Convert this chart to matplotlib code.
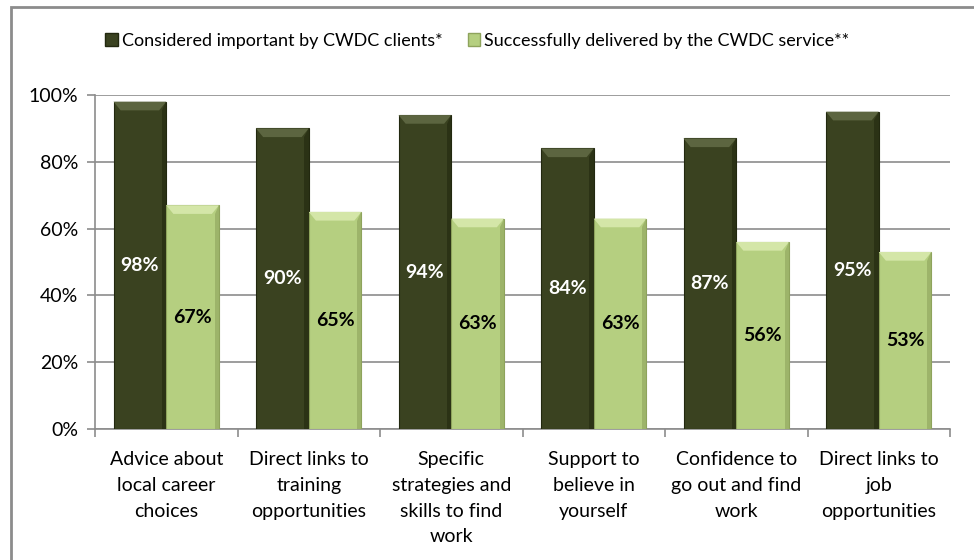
import matplotlib.pyplot as plt
import numpy as np
from matplotlib.patches import Polygon, Rectangle

plt.rcParams['font.family'] = ['Lato', 'DejaVu Sans']

categories = ["Advice about\nlocal career\nchoices",
              "Direct links to\ntraining\nopportunities",
              "Specific\nstrategies and\nskills to find\nwork",
              "Support to\nbelieve in\nyourself",
              "Confidence to\ngo out and find\nwork",
              "Direct links to\njob\nopportunities"]
important = [98, 90, 94, 84, 87, 95]
delivered = [67, 65, 63, 63, 56, 53]
series_names = ["Considered important by CWDC clients*",
                "Successfully delivered by the CWDC service**"]

dark = "#3a4220"
light = "#b5cf80"
width = 0.37

fig = plt.figure(figsize=(9.74, 5.6), dpi=100)
ax = fig.add_axes([95/974, 1 - 429/560, 855/974, 334/560])

x = np.arange(len(categories))


def bevel_bars(xs, vals, color, top_col, side_col):
    bars = ax.bar(xs, vals, width, color=color, edgecolor=side_col, linewidth=0.8, zorder=3)
    dx, dy = 0.05, 2.6
    for b in bars:
        x0, w, h = b.get_x(), b.get_width(), b.get_height()
        # lighter top face of the bevel
        ax.add_patch(Polygon([(x0, h), (x0 + w, h), (x0 + w - dx, h - dy), (x0 + dx, h - dy)],
                             closed=True, facecolor=top_col, edgecolor='none', zorder=4))
        # darker right edge
        ax.add_patch(Polygon([(x0 + w, h), (x0 + w, 0), (x0 + w - dx * 0.6, 0), (x0 + w - dx * 0.6, h - dy)],
                             closed=True, facecolor=side_col, edgecolor='none', alpha=0.6, zorder=4))
    return bars


b1 = bevel_bars(x - width / 2, important, dark, "#5c6540", "#22280f")
b2 = bevel_bars(x + width / 2, delivered, light, "#d4e6a8", "#8ea35c")

for b, v in zip(b1, important):
    ax.text(b.get_x() + b.get_width() / 2, v / 2, f"{v}%", ha='center', va='center',
            color='white', fontsize=14, fontweight='bold', zorder=5)
for b, v in zip(b2, delivered):
    ax.text(b.get_x() + b.get_width() / 2, v / 2, f"{v}%", ha='center', va='center',
            color='black', fontsize=14, fontweight='bold', zorder=5)

ax.set_xlim(-0.5, len(categories) - 0.5)
ax.set_ylim(0, 100)
ax.set_yticks(range(0, 101, 20))
ax.set_yticklabels([f"{t}%" for t in range(0, 101, 20)], fontsize=14)
ax.yaxis.grid(True, color='#8c8c8c', linewidth=1.2, zorder=0)
ax.set_axisbelow(True)

ax.set_xticks(np.arange(-0.5, len(categories), 1))
ax.set_xticklabels([])
ax.set_xticks(x, minor=True)
ax.set_xticklabels(categories, minor=True, fontsize=14, linespacing=1.62, va='top')
ax.tick_params(axis='x', which='minor', length=0, pad=16)
ax.tick_params(axis='x', which='major', length=6, color='#8c8c8c', width=1.2)
ax.tick_params(axis='y', length=6, color='#8c8c8c', width=1.2, pad=6)

for s in ['top', 'right']:
    ax.spines[s].set_visible(False)
for s in ['left', 'bottom']:
    ax.spines[s].set_color('#8c8c8c')
    ax.spines[s].set_linewidth(1.2)

handles = [Rectangle((0, 0), 1, 1, facecolor=dark, edgecolor='#22280f'),
           Rectangle((0, 0), 1, 1, facecolor=light, edgecolor='#8ea35c')]
fig.legend(handles, series_names, loc='center', bbox_to_anchor=(0.49, 1 - 41/560), ncol=2,
           frameon=False, fontsize=13, handlelength=0.7, handleheight=0.7,
           handletextpad=0.2, columnspacing=1.4)

# outer chart frame
fig.add_artist(Rectangle((11/974, -0.1), 1.2, 1 - 7/560 + 0.1, transform=fig.transFigure,
                         fill=False, edgecolor='#8c8c8c', linewidth=2))

fig.savefig("out.png", dpi=100)
